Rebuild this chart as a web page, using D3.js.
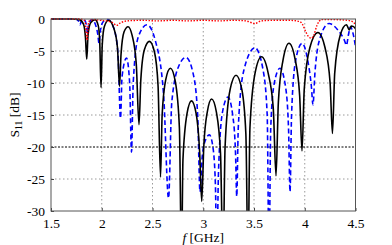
<!DOCTYPE html>
<html>
<head>
<meta charset="utf-8">
<script src="https://cdn.jsdelivr.net/npm/d3@7"></script>
<style>
  html, body { margin: 0; padding: 0; background: #fff; }
  svg { display: block; }
  text { font-family: "Liberation Serif", "DejaVu Serif", serif; fill: #000; }
</style>
</head>
<body>
<svg id="chart" width="392" height="245"></svg>
<script>
// ---- data ----
const xTicks = [1.5, 2, 2.5, 3, 3.5, 4, 4.5];
const xTickLabels = ["1.5", "2", "2.5", "3", "3.5", "4", "4.5"];
const yTicks = [0, -5, -10, -15, -20, -25, -30];
const yTickLabels = ["0", "-5", "-10", "-15", "-20", "-25", "-30"];

const blackFreq = [1.50,1.70,1.78,1.82,1.84,1.852,1.865,1.89,1.934,1.965,1.98,1.993,2.005,2.025,2.067,2.12,2.155,2.175,2.19,2.22,2.259,2.30,2.34,2.367,2.385,2.42,2.470,2.52,2.555,2.579,2.595,2.63,2.677,2.725,2.765,2.786,2.80,2.84,2.884,2.93,2.965,2.985,3.005,3.04,3.083,3.13,3.17,3.195,3.215,3.265,3.323,3.38,3.42,3.441,3.46,3.51,3.574,3.64,3.69,3.717,3.74,3.785,3.845,3.905,3.95,3.973,3.995,4.05,4.130,4.20,4.25,4.273,4.295,4.35,4.411,4.425,4.439,4.459,4.48,4.50];
const blackDb   = [0,0,-0.1,-0.8,-3.0,-6.3,-2.5,-0.6,-0.1,-1.0,-3.5,-10.7,-4.0,-1.2,-0.2,-1.5,-4.5,-10.5,-5.5,-2.0,-1.2,-2.6,-7.0,-16.5,-9.5,-4.8,-3.5,-5.2,-10.5,-24.7,-15,-9.5,-7.7,-9.8,-17,-38,-22,-14.8,-12.8,-14.8,-21,-28.5,-20,-14.5,-12.5,-14.6,-21,-38,-20,-11,-8.8,-11,-18,-38,-17,-8.5,-5.9,-8.5,-14,-24.5,-13,-6.5,-3.8,-6.3,-12,-20.6,-11,-4.5,-2.1,-4.5,-10,-17.9,-8.5,-2.5,-0.9,-1.3,-1.7,-1.1,-1.2,-1.5];

const blueFreq = [1.50,1.74,1.775,1.786,1.80,1.825,1.85,1.860,1.872,1.904,1.945,1.962,1.973,1.985,2.015,2.062,2.12,2.16,2.185,2.20,2.244,2.275,2.293,2.31,2.36,2.446,2.53,2.61,2.658,2.69,2.76,2.830,2.90,2.945,2.968,2.99,3.025,3.060,3.095,3.12,3.133,3.15,3.19,3.244,3.29,3.318,3.330,3.345,3.40,3.510,3.59,3.63,3.648,3.665,3.70,3.756,3.81,3.84,3.855,3.87,3.91,3.973,4.03,4.065,4.081,4.10,4.15,4.239,4.33,4.39,4.411,4.43,4.451,4.475,4.50];
const blueDb   = [0,0,-0.4,-0.9,-0.3,-0.1,-1.0,-2.2,-0.8,-0.1,-1.2,-2.5,-3.8,-2.0,-0.4,-0.1,-1.5,-5.5,-15.5,-9,-6.1,-10,-20.8,-10,-2.8,-0.9,-3.5,-12,-28,-13,-7.3,-6.0,-8.5,-15,-27,-21.5,-18.8,-18.1,-20,-26,-38,-24,-14.5,-12.2,-15,-21,-27.7,-17,-8,-4.5,-8,-15,-38,-17,-10,-7.7,-10.5,-17,-27,-15,-6.5,-3.8,-6.5,-10.5,-13.4,-8.5,-3,-0.7,-1.8,-3.3,-4.1,-2.5,-1.2,-2.2,-4.3];

const redFreq = [1.50,1.78,1.82,1.838,1.855,1.868,1.882,1.92,1.98,2.05,2.11,2.147,2.185,2.25,2.40,2.55,2.70,2.85,3.00,3.15,3.30,3.42,3.51,3.57,3.70,3.85,3.95,3.98,4.01,4.04,4.065,4.09,4.12,4.167,4.30,4.42,4.48,4.50];
const redDb   = [0,0,-0.1,-0.6,-3.3,-0.8,-0.2,-0.1,-0.2,-0.3,-0.6,-1.0,-0.6,-0.3,-0.2,-0.3,-0.2,-0.3,-0.2,-0.3,-0.2,-0.3,-0.7,-0.3,-0.2,-0.2,-0.4,-0.9,-2.0,-2.8,-3.0,-2.5,-1.0,-0.1,-0.1,-0.2,-0.5,-1.0];

// ---- layout ----
const W = 392, H = 245;
const L = 51, R = 355.5, T = 19, B = 211;

const svg = d3.select("#chart");
svg.append("rect").attr("width", W).attr("height", H).attr("fill", "#fff");

const x = d3.scaleLinear().domain([1.5, 4.5]).range([L, R]);
const y = d3.scaleLinear().domain([-30, 0]).range([B, T]);

// grid
const grid = svg.append("g");
grid.selectAll("line.gx").data(xTicks.slice(1, -1)).enter().append("line")
  .attr("x1", d => x(d)).attr("x2", d => x(d)).attr("y1", T).attr("y2", B)
  .attr("stroke", "#808080").attr("stroke-width", 0.8).attr("stroke-dasharray", "1.5,2.5");
grid.selectAll("line.gy").data(yTicks.slice(1, -1).filter(d => d !== -20)).enter().append("line")
  .attr("x1", L).attr("x2", R).attr("y1", d => y(d)).attr("y2", d => y(d))
  .attr("stroke", "#808080").attr("stroke-width", 0.8).attr("stroke-dasharray", "1.5,2.5");
// -20 dB reference line
grid.append("line").attr("x1", L).attr("x2", R).attr("y1", y(-20)).attr("y2", y(-20))
  .attr("stroke", "#000").attr("stroke-width", 1).attr("stroke-dasharray", "2,1.5");

// axes with inward ticks
const xAxis = d3.axisBottom(x).tickValues(xTicks).tickFormat((d, i) => xTickLabels[i]).tickSizeInner(-3).tickSizeOuter(0).tickPadding(7);
const yAxis = d3.axisLeft(y).tickValues(yTicks).tickFormat((d, i) => yTickLabels[i]).tickSizeInner(-3).tickSizeOuter(0).tickPadding(6);
const gx = svg.append("g").attr("transform", `translate(0,${B})`).call(xAxis);
const gy = svg.append("g").attr("transform", `translate(${L},0)`).call(yAxis);
[gx, gy].forEach(g => {
  g.select(".domain").remove();
  g.selectAll("line").attr("stroke", "#444");
  g.selectAll("text").attr("font-family", "Liberation Serif, serif").attr("font-size", 13.5).attr("fill", "#000");
});

// clip
svg.append("clipPath").attr("id", "clip").append("rect")
  .attr("x", L).attr("y", T - 1).attr("width", R - L).attr("height", B - T + 1);

const line = d3.line().x(d => x(d[0])).y(d => y(d[1])).curve(d3.curveMonotoneX);
const plot = svg.append("g").attr("clip-path", "url(#clip)");

plot.append("path").datum(d3.zip(blueFreq, blueDb)).attr("d", line)
  .attr("fill", "none").attr("stroke", "#0000ff").attr("stroke-width", 1.6).attr("stroke-dasharray", "5,3");
plot.append("path").datum(d3.zip(blackFreq, blackDb)).attr("d", line)
  .attr("fill", "none").attr("stroke", "#000").attr("stroke-width", 1.6);
plot.append("path").datum(d3.zip(redFreq, redDb)).attr("d", line)
  .attr("fill", "none").attr("stroke", "#ff0000").attr("stroke-width", 1.4).attr("stroke-dasharray", "1.5,1.5");

// frame
svg.append("rect").attr("x", L).attr("y", T).attr("width", R - L).attr("height", B - T)
  .attr("fill", "none").attr("stroke", "#555").attr("stroke-width", 1);

// axis titles
const xt = svg.append("text").attr("x", (L + R) / 2).attr("y", 242).attr("text-anchor", "middle").attr("font-size", 13.5);
xt.append("tspan").attr("font-style", "italic").text("f");
xt.append("tspan").text(" [GHz]");

const yt = svg.append("text").attr("transform", `translate(19,${(T + B) / 2}) rotate(-90)`).attr("text-anchor", "middle").attr("font-size", 13.5);
yt.append("tspan").text("S");
yt.append("tspan").attr("font-size", 9.5).attr("dy", 3).text("11");
yt.append("tspan").attr("dy", -3).text(" [dB]");
</script>
</body>
</html>
